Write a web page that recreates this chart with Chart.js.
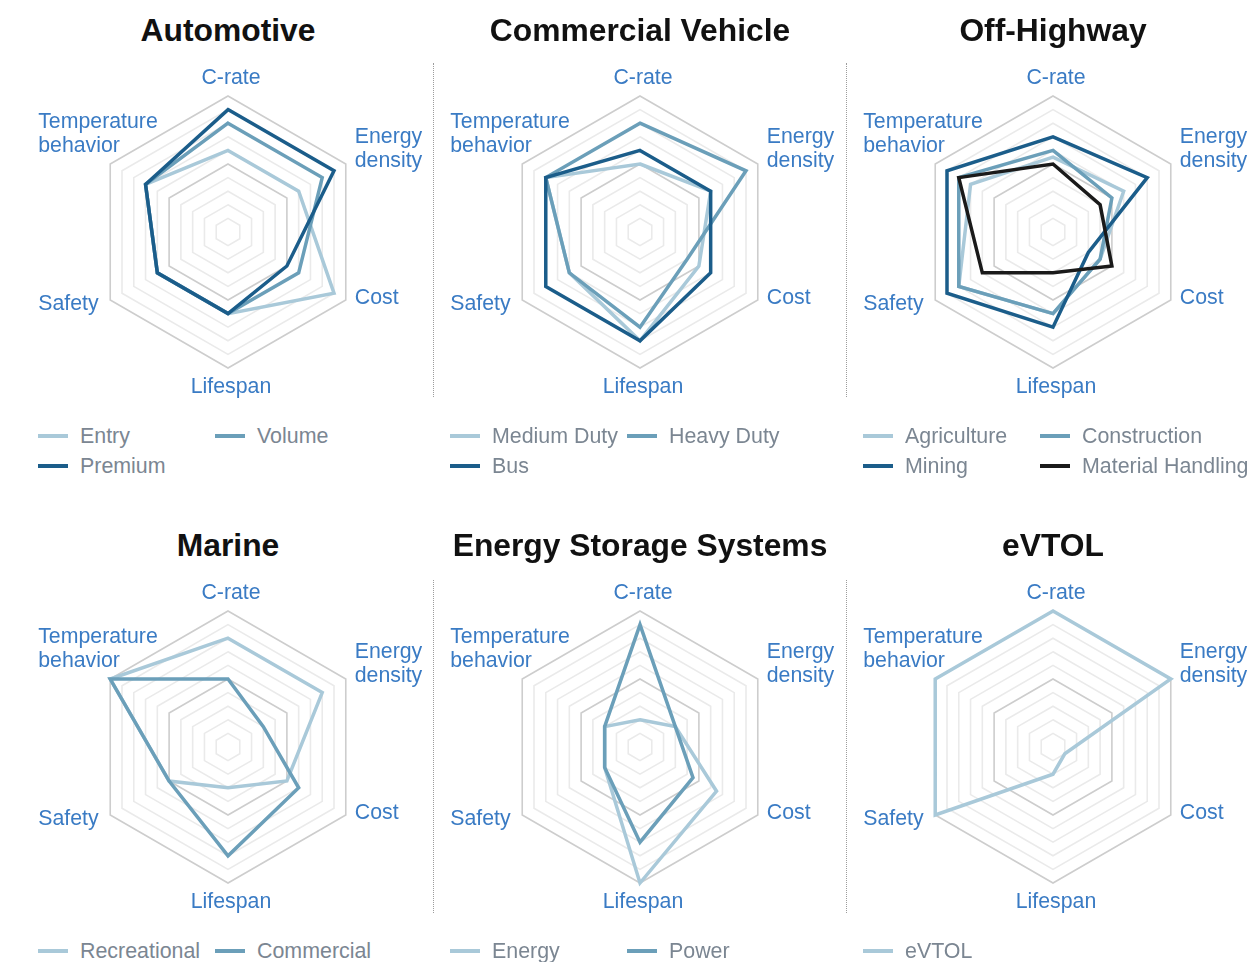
<!DOCTYPE html>
<html>
<head>
<meta charset="utf-8">
<title>Battery requirements by segment</title>
<script src="https://cdn.jsdelivr.net/npm/chart.js@4.4.1/dist/chart.umd.min.js"></script>
<style>
  html, body { margin: 0; padding: 0; background: #fff; width: 1252px; height: 962px; overflow: hidden; }
  body { position: relative; font-family: "Liberation Sans", Arial, Helvetica, sans-serif; }
  .panel-title { position: absolute; width: 412px; text-align: center; font-weight: bold; font-size: 31.8px; color: #111; line-height: 36px; white-space: nowrap; }
  canvas { position: absolute; }
  .legend { position: absolute; display: grid; grid-template-columns: 177px 177px; font-size: 21.4px; color: #7b8692; line-height: 30px; }
  .legend .item { display: flex; align-items: center; white-space: nowrap; }
  .legend .swatch { width: 30px; height: 4px; margin-right: 12px; flex: none; }
  .sep { position: absolute; width: 0; border-left: 1px dotted #9c9c9c; }
</style>
</head>
<body>
<script>
// Axes shared by every radar (clockwise from the top)
const axisLabels = ['C-rate', ['Energy', 'density'], 'Cost', 'Lifespan', 'Safety', ['Temperature', 'behavior']];
const scaleMax = 10;

// Automotive
const automotiveNames = ['Entry', 'Volume', 'Premium'];
const automotiveEntry = [6, 6, 9, 6, 6, 7];
const automotiveVolume = [8, 8, 6, 6, 6, 7];
const automotivePremium = [9, 9, 5, 6, 6, 7];

// Commercial Vehicle
const commercialNames = ['Medium Duty', 'Heavy Duty', 'Bus'];
const commercialMediumDuty = [5, 6, 5, 8, 6, 8];
const commercialHeavyDuty = [8, 9, 4, 7, 6, 8];
const commercialBus = [6, 6, 6, 8, 8, 8];

// Off-Highway
const offHighwayNames = ['Agriculture', 'Construction', 'Mining', 'Material Handling'];
const offHighwayAgriculture = [5.5, 6, 4, 6, 8, 7];
const offHighwayConstruction = [6, 5, 4, 6, 8, 8];
const offHighwayMining = [7, 8, 3, 7, 9, 9];
const offHighwayMaterialHandling = [5, 4, 5, 3, 6, 8];

// Marine
const marineNames = ['Recreational', 'Commercial'];
const marineRecreational = [8, 8, 5, 3, 5, 10];
const marineCommercial = [5, 3, 6, 8, 5, 10];

// Energy Storage Systems
const essNames = ['Energy', 'Power'];
const essEnergy = [2, 3, 6.5, 10, 3, 3];
const essPower = [9, 3, 4.5, 7, 3, 3];

// eVTOL
const evtolNames = ['eVTOL'];
const evtolValues = [10, 10, 1, 2, 10, 10];

// Palette
const LIGHT = '#a9c9d9';
const MEDIUM = '#6b9fb9';
const DARK = '#1b5d8a';
const BLACK = '#1a1a1a';

const panels = [
  { title: 'Automotive', cx: 228, cy: 232, names: automotiveNames,
    series: [automotiveEntry, automotiveVolume, automotivePremium], colors: [LIGHT, MEDIUM, DARK] },
  { title: 'Commercial Vehicle', cx: 640, cy: 232, names: commercialNames,
    series: [commercialMediumDuty, commercialHeavyDuty, commercialBus], colors: [LIGHT, MEDIUM, DARK] },
  { title: 'Off-Highway', cx: 1053, cy: 232, names: offHighwayNames,
    series: [offHighwayAgriculture, offHighwayConstruction, offHighwayMining, offHighwayMaterialHandling],
    colors: [LIGHT, MEDIUM, DARK, BLACK] },
  { title: 'Marine', cx: 228, cy: 747, names: marineNames,
    series: [marineRecreational, marineCommercial], colors: [LIGHT, MEDIUM] },
  { title: 'Energy Storage Systems', cx: 640, cy: 747, names: essNames,
    series: [essEnergy, essPower], colors: [LIGHT, MEDIUM] },
  { title: 'eVTOL', cx: 1053, cy: 747, names: evtolNames,
    series: [evtolValues], colors: [LIGHT] }
];

// Dotted column separators
[[433, 63, 334], [846, 63, 334], [433, 580, 333], [846, 580, 333]].forEach(([x, y, h]) => {
  const d = document.createElement('div');
  d.className = 'sep';
  d.style.left = x + 'px';
  d.style.top = y + 'px';
  d.style.height = h + 'px';
  document.body.appendChild(d);
});

// Axis captions placed around the outer ring: [align, dx, dy of first line]
const labelPlacement = [
  ['center', 3, -17.5],
  ['left', 9, -26.5],
  ['left', 9, -1.5],
  ['center', 3, 19],
  ['left', -72, 4.5],
  ['left', -72, -41.5]
];
const LABEL_LINE = 23.5;

const axisCaptionPlugin = {
  id: 'axisCaptions',
  afterDraw(chart) {
    const scale = chart.scales.r;
    const ctx = chart.ctx;
    ctx.save();
    ctx.font = '21.3px "Liberation Sans", Arial, sans-serif';
    ctx.fillStyle = '#3a7bc4';
    ctx.textBaseline = 'middle';
    chart.data.labels.forEach((label, i) => {
      const p = scale.getPointPosition(i, scale.drawingArea);
      const [align, dx, dy] = labelPlacement[i];
      ctx.textAlign = align;
      const lines = Array.isArray(label) ? label : [label];
      lines.forEach((line, k) => {
        ctx.fillText(line, p.x + dx, p.y + dy + k * LABEL_LINE);
      });
    });
    ctx.restore();
  }
};

const CW = 450, CH = 370, OX = 228, OY = 185, R = 136;

panels.forEach(panel => {
  const title = document.createElement('div');
  title.className = 'panel-title';
  title.textContent = panel.title;
  title.style.left = (panel.cx - 206) + 'px';
  title.style.top = (panel.cy - 202 - 18) + 'px';
  document.body.appendChild(title);

  const canvas = document.createElement('canvas');
  canvas.width = CW;
  canvas.height = CH;
  canvas.style.left = (panel.cx - OX) + 'px';
  canvas.style.top = (panel.cy - OY) + 'px';
  document.body.appendChild(canvas);

  const n = panel.series.length;
  const chart = new Chart(canvas, {
    type: 'radar',
    data: {
      labels: axisLabels,
      datasets: panel.series.map((values, i) => ({
        label: panel.names[i],
        data: values,
        borderColor: panel.colors[i],
        backgroundColor: 'transparent',
        borderWidth: 3.5,
        borderJoinStyle: 'miter',
        fill: false,
        tension: 0,
        pointRadius: 0,
        pointHoverRadius: 0,
        order: n - i
      }))
    },
    options: {
      responsive: false,
      animation: false,
      devicePixelRatio: 1,
      layout: { padding: { left: OX - R, right: CW - OX - R, top: OY - R, bottom: CH - OY - R } },
      plugins: { legend: { display: false }, tooltip: { enabled: false }, title: { display: false } },
      scales: {
        r: {
          min: 0,
          max: scaleMax,
          ticks: { display: false, stepSize: 1 },
          angleLines: { display: false },
          pointLabels: { display: false },
          grid: {
            circular: false,
            lineWidth: 1.6,
            color: c => (c.tick && c.tick.value % 5 === 0) ? '#cdcdcd' : '#eaeaea'
          }
        }
      }
    },
    plugins: [axisCaptionPlugin]
  });

  // Legend built from the chart's datasets, two fixed-width columns
  const legend = document.createElement('div');
  legend.className = 'legend';
  legend.style.left = (panel.cx - 190) + 'px';
  legend.style.top = (panel.cy + 204 - 15) + 'px';
  chart.data.datasets.forEach(ds => {
    const item = document.createElement('div');
    item.className = 'item';
    const sw = document.createElement('span');
    sw.className = 'swatch';
    sw.style.background = ds.borderColor;
    const tx = document.createElement('span');
    tx.textContent = ds.label;
    item.appendChild(sw);
    item.appendChild(tx);
    legend.appendChild(item);
  });
  document.body.appendChild(legend);
});
</script>
</body>
</html>
